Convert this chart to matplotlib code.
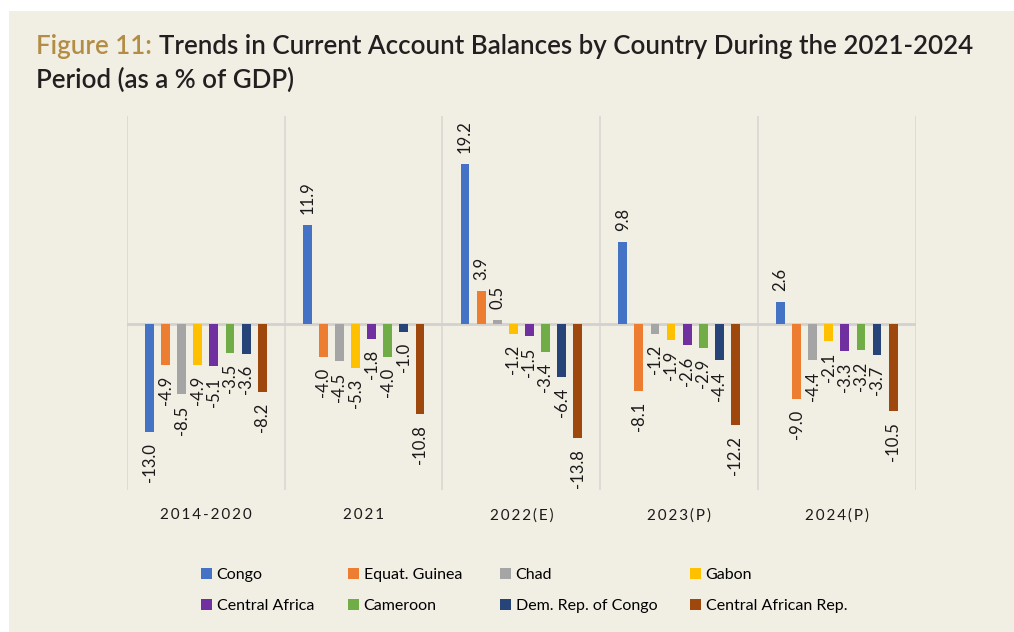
import numpy as np
import matplotlib
matplotlib.use("Agg")
import matplotlib.pyplot as plt
from matplotlib.patches import Rectangle

# ###########################################################
# Data (current account balance, % of GDP)
# ###########################################################

periods = ["2014-2020", "2021", "2022(E)", "2023(P)", "2024(P)"]
countries = ["Congo", "Equat. Guinea", "Chad", "Gabon",
             "Central Africa", "Cameroon", "Dem. Rep. of Congo",
             "Central African Rep."]

congo = [-13.0, 11.9, 19.2, 9.8, 2.6]
equat_guinea = [-4.9, -4.0, 3.9, -8.1, -9.0]
chad = [-8.5, -4.5, 0.5, -1.2, -4.4]
gabon = [-4.9, -5.3, -1.2, -1.9, -2.1]
central_africa = [-5.1, -1.8, -1.5, -2.6, -3.3]
cameroon = [-3.5, -4.0, -3.4, -2.9, -3.2]
drc = [-3.6, -1.0, -6.4, -4.4, -3.7]
car = [-8.2, -10.8, -13.8, -12.2, -10.5]

series = [congo, equat_guinea, chad, gabon, central_africa, cameroon, drc, car]
colors = ["#4472C4", "#ED7D31", "#A5A5A5", "#FFC000",
          "#7030A0", "#70AD47", "#264478", "#9E480E"]

# ###########################################################
# Figure setup
# ###########################################################

W, H = 1014, 632
bg = "#F1EEE4"
label_font = ["Lato", "DejaVu Sans"]

fig = plt.figure(figsize=(W / 100, H / 100), dpi=100, facecolor="white")
# beige panel with the thin white margin on top / left
fig.patches.append(Rectangle((9 / W, 0), 1 - 9 / W, 1 - 11 / H,
                             transform=fig.transFigure, facecolor=bg,
                             edgecolor="none", zorder=-10))

ax = fig.add_axes([127 / W, 1 - 490 / H, (915.7 - 127) / W, (490 - 116) / H])
ax.set_facecolor(bg)
ax.patch.set_alpha(0)

# ###########################################################
# Bars and data labels
# ###########################################################

x = np.arange(len(periods))
step = 0.102
width = 0.056
offsets = (np.arange(len(series)) - (len(series) - 1) / 2) * step

bars = []
for vals, col, off, name in zip(series, colors, offsets, countries):
    b = ax.bar(x + off, vals, width=width, color=col, label=name, zorder=3)
    bars.append(b)
    for xi, v in zip(x + off, vals):
        ax.annotate(f"{v:.1f}", xy=(xi, v), xytext=(0, 8 if v >= 0 else -8),
                    textcoords="offset points", rotation=90, ha="center",
                    va="bottom" if v >= 0 else "top", fontsize=12,
                    family=label_font, color="#1a1a1a")

# axis limits / decorations
ax.set_xlim(-0.5, len(periods) - 0.5)
ax.set_ylim(-20, 25)
ax.axhline(0, color="#D3D1CD", lw=2, zorder=2)
for xv in np.arange(-0.5, len(periods), 1.0):
    ax.axvline(xv, color="#DAD8D4", lw=1.2, zorder=1)

for s in ax.spines.values():
    s.set_visible(False)
ax.set_yticks([])
ax.set_xticks(x)
ax.set_xticklabels(["\u2009".join(p) for p in periods], family=label_font,
                   fontsize=11, color="#1a1a1a")
ax.tick_params(axis="x", length=0, pad=13)

# ###########################################################
# Legend (one entry per slot, Excel-like layout)
# ###########################################################

col_x = [201, 348, 500, 690]
row_y = [575, 605.7]
for i, b in enumerate(bars):
    cx = col_x[i % 4]
    cy = row_y[i // 4]
    fig.legend([b], [countries[i]], loc="center left",
               bbox_to_anchor=(cx / W, 1 - cy / H), frameon=False,
               borderpad=0, borderaxespad=0, handlelength=0.68,
               handleheight=0.68, handletextpad=0.3,
               prop={"family": label_font, "size": 11.5})

# ###########################################################
# Title (sized so that line one spans x = 36 .. 971 px)
# ###########################################################

title_kw = dict(family="Lato", weight="semibold", va="baseline", ha="left")
line1 = "Trends in Current Account Balances by Country During the 2021-2024"
title_size = 21.0
for _ in range(3):
    for t in list(fig.texts):
        t.remove()
    t1 = fig.text(36 / W, 1 - 54 / H, "Figure 11:", color="#B38D45",
                  fontsize=title_size, **title_kw)
    fig.canvas.draw()
    ext = t1.get_window_extent()
    t2 = fig.text((ext.x1 + 7) / W, 1 - 54 / H, line1, color="#231F20",
                  fontsize=title_size, **title_kw)
    fig.canvas.draw()
    right = t2.get_window_extent().x1
    title_size *= (971 - 36) / (right - 36)

fig.text(36 / W, 1 - 88 / H, "Period (as a % of GDP)", color="#231F20",
         fontsize=t1.get_fontsize(), **title_kw)

fig.savefig("out.png", dpi=100, facecolor=fig.get_facecolor())
